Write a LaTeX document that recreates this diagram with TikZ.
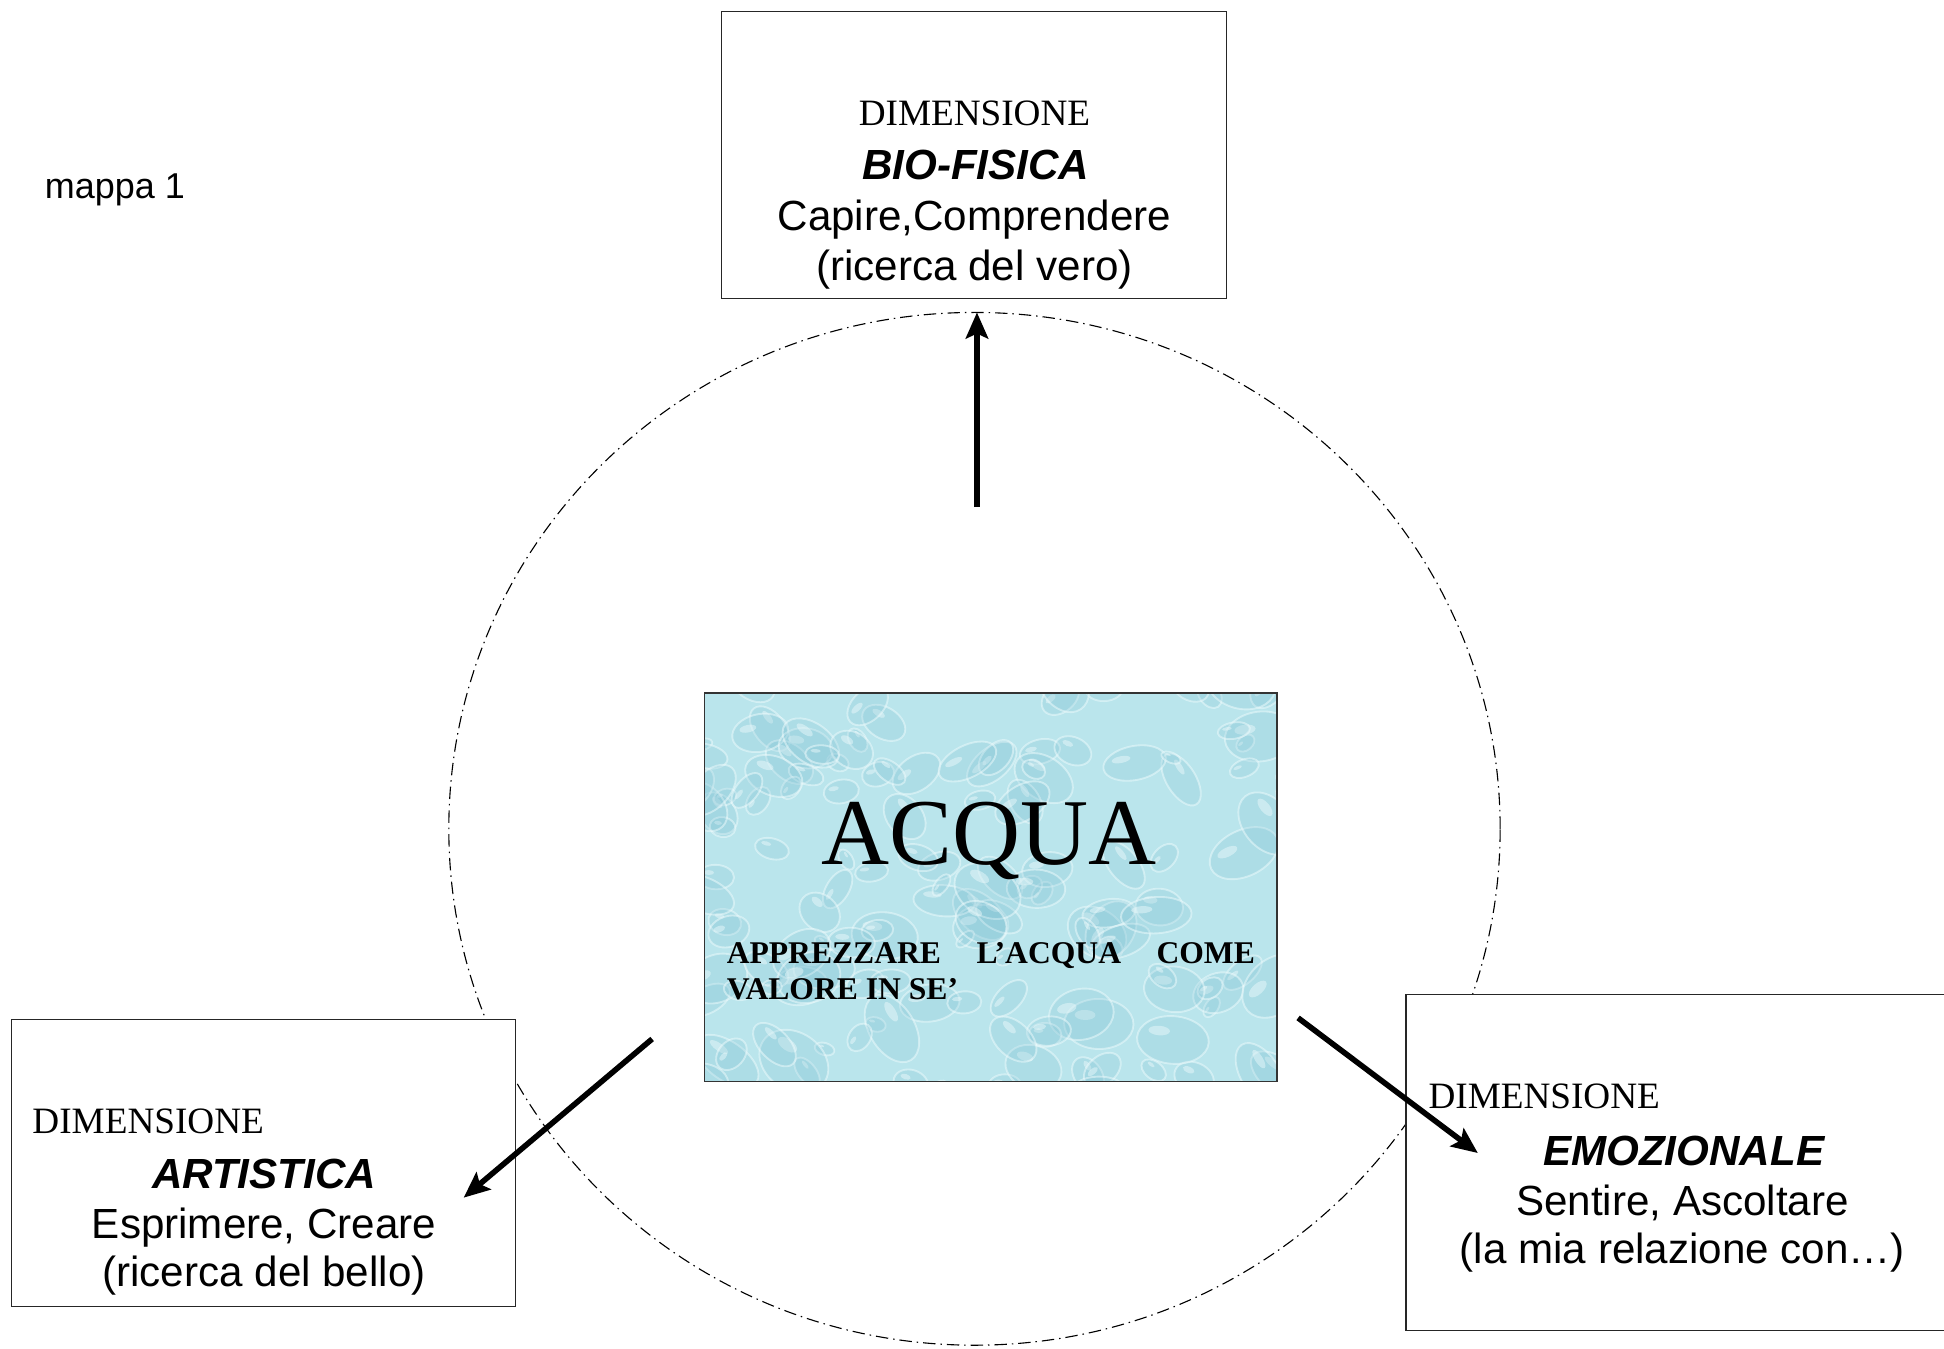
\documentclass[tikz,border=0pt]{standalone}
\usepackage{fontspec}
\setmainfont{Liberation Serif}
\newfontfamily\arial{Liberation Sans}
\usetikzlibrary{arrows.meta}
\definecolor{waterbase}{RGB}{186,229,236}
\definecolor{waterdrop}{RGB}{128,194,212}
\definecolor{waterhi}{RGB}{240,252,253}
\tikzset{
  frame/.style={draw=black!85, line width=1pt, fill=white, inner sep=0pt},
  ring/.style={draw=black, line width=0.9pt, dash pattern=on 10pt off 4pt on 1.2pt off 4pt},
  conn/.style={line width=4.5pt, -{Stealth[length=21pt,width=18pt,inset=4pt]}},
  arl/.style={font=\arial\fontsize{34}{40}\selectfont, inner sep=0pt, anchor=base},
  arb/.style={font=\arial\bfseries\itshape\fontsize{34}{40}\selectfont, inner sep=0pt, anchor=base},
  tms/.style={font=\fontsize{30}{34}\selectfont, inner sep=0pt, anchor=base},
}
\begin{document}
\begin{tikzpicture}[x=1pt,y=-1pt]
\useasboundingbox (0,0) rectangle (1568,1088);
% dash-dot circle
\draw[ring] (786,668.5) ellipse [x radius=424pt, y radius=416.5pt];
% boxes
\node[frame, minimum width=407pt, minimum height=232pt] (top) at (785.5,125) {};
\node[frame, minimum width=407pt, minimum height=232pt] (left) at (212.5,938) {};
\node[frame, minimum width=441pt, minimum height=271pt] (right) at (1354.5,937.5) {};
% central water box
\begin{scope}
\clip (568,559) rectangle (1030,872);
\fill[waterbase] (568,559) rectangle (1030,872);
\pgfmathsetseed{11}
\foreach \i in {1,...,150}{
  \pgfmathsetmacro\xx{555+490*rnd}
  \pgfmathsetmacro\yy{545+340*rnd}
  \pgfmathsetmacro\rr{8+22*rnd}
  \pgfmathsetmacro\ry{\rr*(0.5+0.3*rnd)}
  \pgfmathsetmacro\ang{-60+120*rnd}
  \begin{scope}[shift={(\xx,\yy)}, rotate=\ang]
    \fill[waterdrop, opacity=0.22] (0,0) ellipse [x radius=\rr pt, y radius=\ry pt];
    \draw[waterhi, opacity=0.5, line width=1.5pt] (0,0) ellipse [x radius=\rr pt, y radius=\ry pt];
    \fill[waterhi, opacity=0.45] (-0.4*\rr,-0.35*\ry) ellipse [x radius=0.3*\rr pt, y radius=0.2*\ry pt];
  \end{scope}
}
\end{scope}
\node[draw=black!80, line width=1pt, minimum width=462pt, minimum height=313pt, inner sep=0pt] (acquabox) at (799,715.5) {};
\node[font=\fontsize{76}{80}\selectfont, inner sep=0pt, anchor=base] (acqua) at (798,697) {ACQUA};
\node[font=\bfseries\fontsize{25.5}{30}\selectfont, inner sep=0pt, anchor=base west] (appr1) at (586,777) {\hbox to 426pt{APPREZZARE\hfill L’ACQUA\hfill COME}};
\node[font=\bfseries\fontsize{25.5}{30}\selectfont, inner sep=0pt, anchor=base west] (appr2) at (586,806) {VALORE IN SE’};
% label
\node[font=\arial\fontsize{29}{34}\selectfont, inner sep=0pt, anchor=base west] (mappa) at (36,160) {mappa 1};
% top box text
\node[tms] (t1) at (786,101) {DIMENSIONE};
\node[arb] (t2) at (787,145) {BIO-FISICA};
\node[arl] (t3) at (786,186) {Capire,Comprendere};
\node[arl] (t4) at (786,226) {(ricerca del vero)};
% left box text
\node[tms, anchor=base west] (l1) at (26,914) {DIMENSIONE};
\node[arb] (l2) at (213,959) {ARTISTICA};
\node[arl] (l3) at (213,999) {Esprimere, Creare};
\node[arl] (l4) at (213,1038) {(ricerca del bello)};
% right box text
\node[tms, anchor=base west] (r1) at (1152,894) {DIMENSIONE};
\node[arb] (r2) at (1358,940) {EMOZIONALE};
\node[arl] (r3) at (1357,980) {Sentire, Ascoltare};
\node[arl] (r4) at (1357,1019) {(la mia relazione con…)};
% connectors
\coordinate (upS) at (788,409);
\coordinate (upE) at (788,252);
\coordinate (lfS) at (526,838);
\coordinate (lfE) at (374,966);
\coordinate (rtS) at (1047,821);
\coordinate (rtE) at (1192,930);
\draw[conn] (upS) -- (upE);
\draw[conn] (lfS) -- (lfE);
\draw[conn] (rtS) -- (rtE);
\end{tikzpicture}
\end{document}
